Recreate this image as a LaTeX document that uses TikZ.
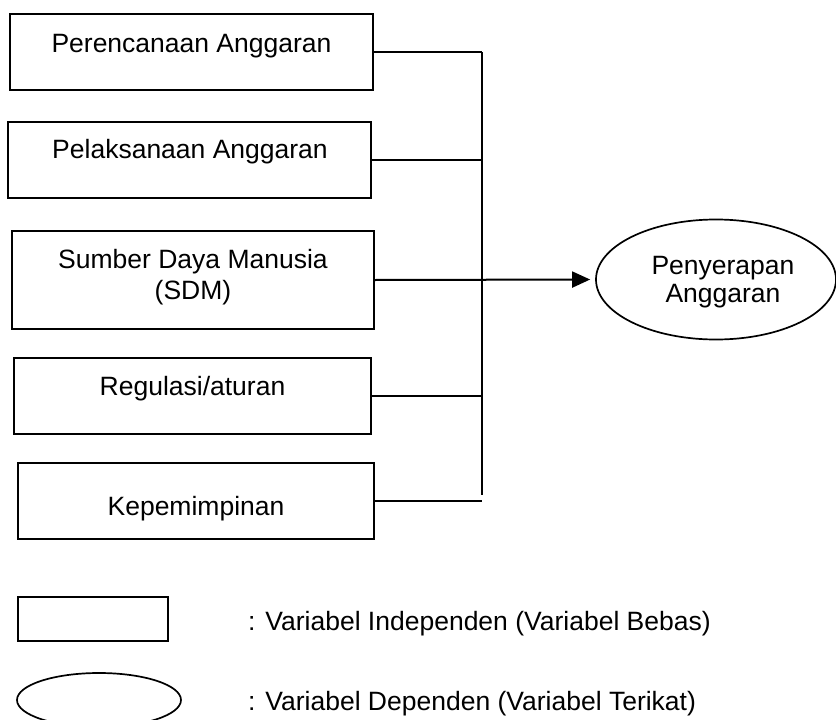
\documentclass[tikz,border=0pt]{standalone}
\usepackage{fontspec}
\setmainfont{Liberation Sans}
\usetikzlibrary{shapes.geometric,arrows.meta}
\begin{document}
\begin{tikzpicture}[x=1pt,y=-1pt,
  box/.style={draw, line width=1.7pt, rectangle, inner sep=0pt},
  oval/.style={draw, line width=1.7pt, ellipse, inner sep=0pt},
  txt/.style={anchor=base, inner sep=0pt, font=\fontsize{26.5}{31}\selectfont},
  ltxt/.style={anchor=base west, inner sep=0pt, font=\fontsize{26.5}{31}\selectfont},
  conn/.style={line width=1.8pt}]
\useasboundingbox (0,0) rectangle (836,720);
% boxes
\node[box, minimum width=363pt, minimum height=76pt] (b1) at (191.5,52) {};
\node[box, minimum width=363pt, minimum height=76pt] (b2) at (189.5,160) {};
\node[box, minimum width=362pt, minimum height=98pt] (b3) at (193,280) {};
\node[box, minimum width=357pt, minimum height=76pt] (b4) at (192.5,396) {};
\node[box, minimum width=356pt, minimum height=76pt] (b5) at (196,501) {};
% texts
\node[txt] (t1) at (191.5,52) {Perencanaan Anggaran};
\node[txt] (t2) at (190,158) {Pelaksanaan Anggaran};
\node[txt] (t3a) at (193,268) {Sumber Daya Manusia};
\node[txt] (t3b) at (193,299) {(SDM)};
\node[txt] (t4) at (192.5,395) {Regulasi/aturan};
\node[txt] (t5) at (196,515) {Kepemimpinan};
% dependent
\node[oval, minimum width=240pt, minimum height=120pt] (dep) at (716,279.5) {};
\node[txt] (td1) at (723,274) {Penyerapan};
\node[txt] (td2) at (723,302) {Anggaran};
% bus
\coordinate (bt) at (482,52);
\coordinate (bb) at (482,495);
\draw[line width=2pt] (bt) -- (bb);
\draw[conn] (b1.east) -- (b1.east -| bt);
\draw[conn] (b2.east) -- (b2.east -| bt);
\draw[conn] (b4.east) -- (b4.east -| bt);
\draw[conn] (b5.east) -- (b5.east -| bt);
\draw[conn, line width=2pt, -{Triangle[length=18pt,width=16pt]}, shorten >=5pt] (b3.east) -- (dep.west);
% legend
\node[box, minimum width=150pt, minimum height=44pt] (lb) at (93,619) {};
\node[ltxt] (lt1) at (248,630) {: Variabel Independen (Variabel Bebas)};
\node[oval, minimum width=164pt, minimum height=54pt] (le) at (99,700) {};
\node[ltxt] (lt2) at (248,710) {: Variabel Dependen (Variabel Terikat)};
\end{tikzpicture}
\end{document}
